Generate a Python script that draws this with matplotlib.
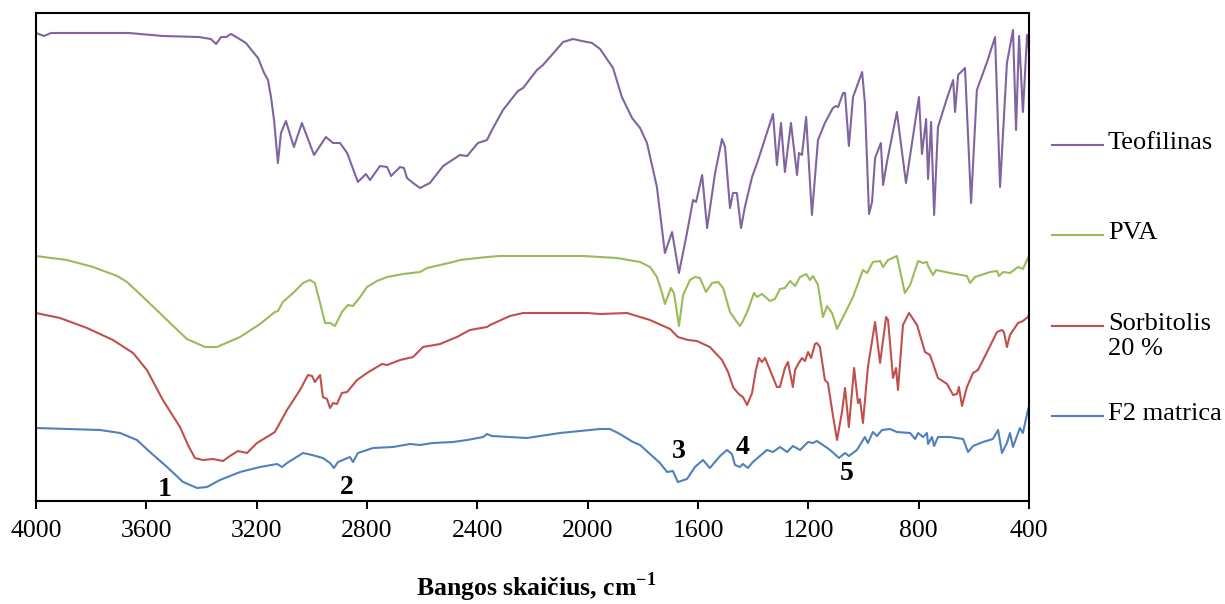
"""
FTIR spectra: Teofilinas, PVA, Sorbitolis 20 %, F2 matrica
"""
import matplotlib
matplotlib.use("Agg")
import matplotlib.pyplot as plt

plt.rcParams['font.family'] = ['Liberation Serif', 'DejaVu Serif']
plt.rcParams['mathtext.fontset'] = 'custom'
plt.rcParams['mathtext.rm'] = 'Liberation Serif'
plt.rcParams['mathtext.bf'] = 'Liberation Serif:bold'

# wavenumber (cm-1) / relative transmittance
teo_wn = [4000, 3971, 3946, 3663, 3540, 3409, 3366, 3347, 3329, 3311, 3293, 3268, 3239,
          3213, 3195, 3173, 3159, 3148, 3137, 3123, 3112, 3094, 3065, 3036, 2992, 2949,
          2923, 2898, 2872, 2833, 2804, 2789, 2753, 2727, 2713, 2680, 2666, 2655, 2633,
          2608, 2572, 2524, 2463, 2437, 2398, 2365, 2347, 2307, 2253, 2234, 2184, 2162,
          2089, 2053, 2021, 1984, 1955, 1908, 1876, 1839, 1810, 1785, 1749, 1720, 1694,
          1669, 1640, 1618, 1607, 1585, 1567, 1538, 1513, 1502, 1484, 1473, 1459, 1444,
          1430, 1404, 1382, 1328, 1314, 1299, 1285, 1263, 1241, 1234, 1223, 1208, 1187,
          1165, 1140, 1111, 1100, 1092, 1074, 1067, 1053, 1038, 1005, 995, 980, 969, 958,
          937, 929, 915, 879, 846, 799, 788, 773, 766, 755, 744, 730, 697, 675, 668, 657,
          632, 610, 589, 552, 523, 505, 480, 458, 447, 436, 422, 407, 400]
teo_t = [468, 465, 468, 468, 465, 464, 462, 457, 464, 464, 467, 463, 458,
         449, 443, 428, 421, 404, 381, 338, 368, 380, 354, 378, 346, 364,
         358, 358, 348, 319, 327, 321, 335, 334, 325, 334, 333, 323, 318,
         313, 318, 335, 346, 345, 358, 361, 371, 391, 410, 413, 431, 436,
         459, 462, 460, 458, 452, 433, 404, 383, 373, 358, 314, 248, 269,
         228, 268, 301, 299, 326, 273, 328, 362, 354, 293, 308, 308, 273,
         294, 324, 341, 387, 336, 378, 329, 378, 326, 348, 346, 384, 286,
         361, 378, 393, 395, 394, 408, 408, 355, 404, 429, 398, 287, 299, 343,
         358, 316, 339, 389, 318, 404, 347, 382, 322, 379, 286, 374, 403, 421, 389, 426,
         433, 298, 411, 439, 464, 314, 438, 471, 371, 465, 389, 466, 451]

pva_wn = [4000, 3888, 3793, 3706, 3670, 3612, 3525, 3453, 3387, 3344, 3260, 3188, 3134,
          3123, 3105, 3068, 3032, 3007, 2989, 2970, 2952, 2934, 2916, 2891, 2869, 2851,
          2825, 2800, 2764, 2727, 2669, 2608, 2582, 2488, 2463, 2365, 2318, 2126, 2017,
          1894, 1810, 1774, 1749, 1730, 1720, 1698, 1687, 1669, 1654, 1629, 1611, 1593,
          1571, 1549, 1527, 1509, 1484, 1459, 1448, 1437, 1419, 1397, 1386, 1368, 1339,
          1321, 1303, 1285, 1266, 1248, 1230, 1208, 1194, 1183, 1165, 1147, 1132, 1114,
          1096, 1074, 1038, 1002, 987, 966, 940, 929, 911, 879, 868, 850, 831, 802, 784,
          770, 766, 748, 737, 686, 625, 614, 596, 541, 516, 509, 494, 469, 440, 422, 404, 400]
pva_t = [245, 241, 234, 225, 219, 204, 181, 162, 154, 154, 164, 177, 189,
         190, 199, 208, 218, 221, 218, 198, 178, 178, 175, 189, 196, 195,
         204, 214, 220, 224, 227, 229, 233, 239, 241, 244, 245, 245, 245,
         243, 239, 234, 224, 208, 197, 213, 208, 175, 206, 221, 224, 223,
         209, 218, 219, 213, 189, 179, 175, 180, 191, 208, 204, 207, 200,
         202, 212, 213, 220, 215, 224, 227, 221, 225, 216, 184, 195, 188,
         172, 184, 204, 231, 228, 239, 240, 234, 241, 245, 231, 208, 216, 240, 238,
         239, 235, 226, 231, 228, 225, 218, 224, 229, 230, 225, 229, 228, 234, 232, 243, 245]

sor_wn = [4000, 3913, 3815, 3721, 3648, 3598, 3540, 3478, 3449, 3424, 3395, 3358, 3322,
          3297, 3268, 3235, 3199, 3163, 3134, 3090, 3043, 3014, 2999, 2989, 2970, 2960,
          2945, 2934, 2923, 2909, 2891, 2872, 2836, 2800, 2746, 2727, 2680, 2633, 2597,
          2535, 2474, 2427, 2365, 2354, 2282, 2234, 2137, 2002, 1955, 1857, 1774, 1701,
          1673, 1636, 1604, 1557, 1513, 1491, 1473, 1459, 1448, 1437, 1422, 1404, 1390,
          1379, 1368, 1357, 1339, 1314, 1303, 1285, 1274, 1256, 1248, 1237, 1223, 1212,
          1201, 1190, 1176, 1169, 1158, 1140, 1129, 1111, 1096, 1078, 1067, 1053, 1034,
          1020, 1013, 1002, 984, 958, 940, 918, 911, 893, 882, 875, 857, 835, 806, 777,
          759, 730, 697, 675, 661, 654, 643, 625, 603, 585, 552, 516, 498, 491, 480, 469,
          440, 422, 404, 400]
sor_t = [188, 183, 173, 161, 148, 131, 101, 74, 56, 43, 41, 42, 40,
         45, 50, 48, 58, 64, 69, 91, 111, 126, 125, 119, 126, 104,
         102, 93, 98, 97, 108, 109, 121, 128, 137, 136, 141, 144, 154,
         157, 164, 171, 174, 176, 185, 188, 188, 188, 187, 188, 181, 172,
         164, 161, 160, 154, 141, 129, 114, 109, 106, 104, 96, 108, 131,
         143, 139, 143, 131, 114, 114, 133, 139, 114, 131, 137, 143, 140,
         149, 143, 157, 158, 154, 121, 118, 86, 61, 89, 113, 74, 133,
         98, 102, 78, 134, 179, 138, 184, 181, 123, 133, 111, 176, 188, 176, 149,
         146, 123, 117, 106, 107, 114, 95, 114, 128, 131, 149, 169, 171, 169, 154, 166,
         178, 180, 184, 186]

f2_wn = [4000, 3768, 3695, 3634, 3587, 3525, 3467, 3416, 3380, 3333, 3260, 3188, 3126,
         3108, 3090, 3032, 2999, 2960, 2934, 2920, 2905, 2862, 2851, 2833, 2778, 2706,
         2644, 2608, 2561, 2488, 2437, 2379, 2365, 2347, 2220, 2100, 1955, 1919, 1883,
         1836, 1810, 1738, 1712, 1691, 1673, 1640, 1611, 1582, 1557, 1520, 1495, 1477,
         1466, 1448, 1437, 1419, 1401, 1350, 1328, 1303, 1277, 1256, 1230, 1201, 1183,
         1169, 1147, 1121, 1089, 1067, 1053, 1024, 995, 984, 966, 951, 933, 904, 879,
         831, 813, 802, 784, 770, 766, 752, 744, 730, 686, 639, 621, 603, 567, 531, 512,
         498, 480, 469, 458, 433, 422, 404, 400]
f2_t = [73, 71, 68, 61, 49, 34, 19, 13, 14, 21, 29, 34, 37,
        34, 38, 48, 46, 43, 38, 33, 39, 44, 39, 48, 53, 54,
        57, 56, 58, 59, 61, 64, 67, 65, 63, 68, 72, 72, 67,
        59, 56, 38, 29, 30, 19, 22, 34, 41, 33, 45, 51, 47,
        36, 34, 37, 33, 39, 51, 49, 54, 49, 55, 51, 59, 58,
        60, 56, 51, 43, 48, 45, 51, 64, 58, 69, 65, 71, 72, 69,
        68, 62, 68, 64, 68, 57, 64, 55, 64, 64, 62, 49, 55, 59, 62, 71,
        48, 58, 68, 54, 73, 68, 91, 95]

series_names = ['Teofilinas', 'PVA', 'Sorbitolis\n20 %', 'F2 matrica']
series_colors = ['#8064A2', '#9BBB59', '#C0504D', '#4F81BD']

peak_labels = ['1', '2', '3', '4', '5']
peak_wn = [3532, 2872, 1669, 1437, 1060]
peak_t = [11, 14, 49, 53, 28]

xticks = [4000, 3600, 3200, 2800, 2400, 2000, 1600, 1200, 800, 400]

W, H = 1225, 604
fig = plt.figure(figsize=(W / 100, H / 100), dpi=100)
ax = fig.add_axes([36 / W, 1 - 501 / H, (1029 - 36) / W, 488 / H])

series = [(teo_wn, teo_t), (pva_wn, pva_t), (sor_wn, sor_t), (f2_wn, f2_t)]
for (wn, t), c in zip(series, series_colors):
    ax.plot(wn, t, color=c, lw=1.5, solid_joinstyle='round')

for lab, xw, yt in zip(peak_labels, peak_wn, peak_t):
    ax.text(xw, yt, lab, ha='center', va='center', fontsize=20, fontweight='bold')

ax.set_xlim(4000, 400)
ax.set_ylim(0, 488)
ax.set_xticks(xticks)
ax.set_yticks([])
ax.tick_params(axis='x', direction='out', length=6, width=1.4, pad=8, labelsize=18.5)
for s in ax.spines.values():
    s.set_linewidth(1.5)

ax.set_xlabel(r'Bangos skaičius, cm$^{\mathbf{-1}}$', fontsize=18.5, fontweight='bold')
ax.xaxis.set_label_coords(0.5035, -0.195)
ax.xaxis.label.set_va('baseline')

# legend on the right, drawn by hand (handle aligned with first text line)
lax = fig.add_axes([0, 0, 1, 1])
lax.set_xlim(0, W)
lax.set_ylim(H, 0)
lax.axis('off')
leg_y = [145, 235, 326, 416]
for name, c, y in zip(series_names, series_colors, leg_y):
    lax.plot([1052, 1103], [y, y], color=c, lw=1.5)
    lax.text(1108, y - 13, name, ha='left', va='top', fontsize=19, linespacing=1.15)

fig.savefig('out.png', dpi=100)
